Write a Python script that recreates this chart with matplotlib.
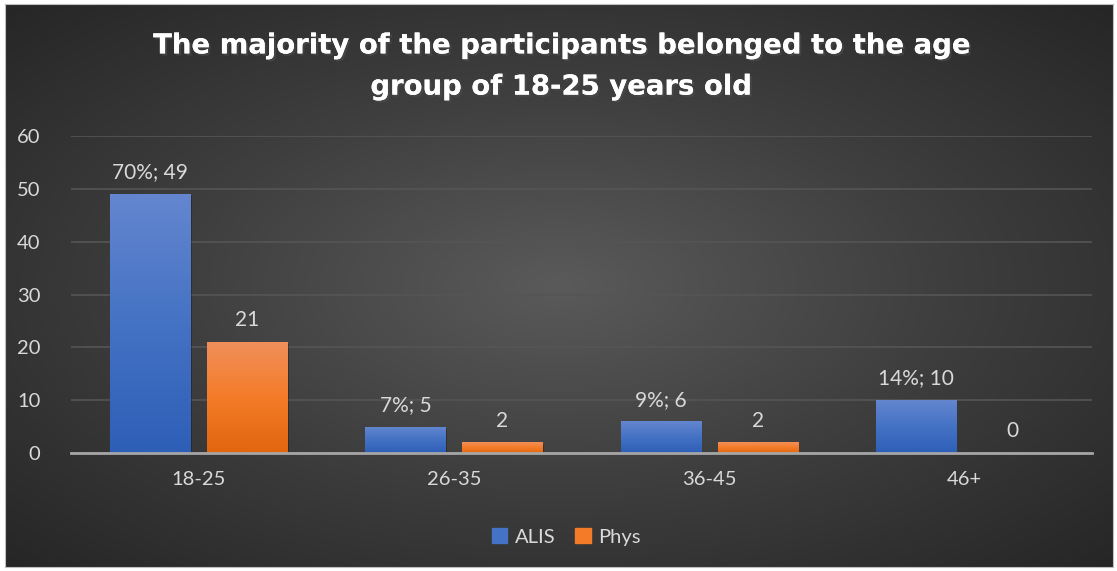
import numpy as np
import matplotlib.pyplot as plt
import matplotlib.patheffects as pe
from matplotlib.colors import LinearSegmentedColormap

plt.rcParams['font.family'] = ['Lato', 'DejaVu Sans']

categories = ['18-25', '26-35', '36-45', '46+']
alis = [49, 5, 6, 10]
phys = [21, 2, 2, 0]
alis_labels = ['70%; 49', '7%; 5', '9%; 6', '14%; 10']
phys_labels = ['21', '2', '2', '0']
title = 'The majority of the participants belonged to the age\ngroup of 18-25 years old'

txt = '#d9d9d9'

fig = plt.figure(figsize=(11.17, 5.71), dpi=100, facecolor='white')

# dark radial background
bg = fig.add_axes([5 / 1117, 4 / 571, 1108 / 1117, 563 / 571])
yy, xx = np.mgrid[0:1:300j, 0:1:600j]
r = np.sqrt(((xx - 0.5) / 0.75) ** 2 + ((yy - 0.5) / 0.75) ** 2)
r = np.clip(r / r.max(), 0, 1)
bgcmap = LinearSegmentedColormap.from_list('bg', ['#5a5a5a', '#3e3e3e', '#262626'])
bg.imshow(r, cmap=bgcmap, aspect='auto', extent=[0, 1, 0, 1], vmin=0, vmax=1)
bg.set_xticks([])
bg.set_yticks([])
for s in bg.spines.values():
    s.set_color('#bfbfbf')
    s.set_linewidth(0.8)

ax = fig.add_axes([71 / 1117, 1 - 453 / 571, 1021 / 1117, 317 / 571])
ax.patch.set_alpha(0)

x = np.arange(len(categories))
w = 0.314
off = 0.19

blue_cm = LinearSegmentedColormap.from_list('b', ['#2e5fb7', '#4472c4', '#6486cf'])
orng_cm = LinearSegmentedColormap.from_list('o', ['#e2650f', '#f47c28', '#f08f5a'])

grad = np.linspace(0, 1, 100).reshape(-1, 1)

def grad_bars(xs, vals, cmap):
    bars = ax.bar(xs, vals, w, color='none', zorder=3)
    for b in bars:
        if b.get_height() <= 0:
            continue
        # soft shadow
        ax.bar(b.get_x() + b.get_width() / 2 + 0.006, b.get_height(), w,
               bottom=-0.4, color='black', alpha=0.25, zorder=2)
        im = ax.imshow(grad, cmap=cmap, origin='lower', aspect='auto',
                       extent=[b.get_x(), b.get_x() + b.get_width(), 0, b.get_height()],
                       zorder=3)
        im.set_clip_path(b)
    return bars

b1 = grad_bars(x - off, alis, blue_cm)
b2 = grad_bars(x + off, phys, orng_cm)

for b, lab in zip(b1, alis_labels):
    ax.text(b.get_x() + b.get_width() / 2, b.get_height() + 2.2, lab,
            ha='center', va='bottom', color=txt, fontsize=15)
for b, lab in zip(b2, phys_labels):
    ax.text(b.get_x() + b.get_width() / 2, b.get_height() + 2.2, lab,
            ha='center', va='bottom', color=txt, fontsize=15)

ax.set_xlim(-0.5, len(categories) - 0.5)
ax.set_ylim(0, 60)
ax.set_yticks(range(0, 61, 10))
ax.set_xticks(x)
ax.set_xticklabels(categories)
ax.tick_params(axis='both', length=0, colors=txt, labelsize=14.5)
ax.tick_params(axis='x', pad=13)
ax.tick_params(axis='y', pad=22)
ax.grid(axis='y', color='#555555', linewidth=1.2, zorder=0)
for s in ['top', 'right', 'left']:
    ax.spines[s].set_visible(False)
ax.spines['bottom'].set_color('#a6a6a6')
ax.spines['bottom'].set_linewidth(2)
ax.spines['bottom'].set_zorder(4)

# legend
h1 = plt.Rectangle((0, 0), 1, 1, color='#4472c4')
h2 = plt.Rectangle((0, 0), 1, 1, color='#f47c28')
leg = fig.legend([h1, h2], ['ALIS', 'Phys'], loc='center', bbox_to_anchor=(0.507, 1 - 537 / 571),
                 ncol=2, frameon=False, fontsize=14.5, handlelength=0.75, handleheight=0.75,
                 handletextpad=0.4, columnspacing=1.0)
for t in leg.get_texts():
    t.set_color(txt)

fig.text(0.502, 1 - 66 / 571, title, ha='center', va='center', color='white',
         fontsize=19.8, fontweight='bold', family='DejaVu Sans', linespacing=1.6,
         path_effects=[pe.withSimplePatchShadow(offset=(1.5, -1.5), alpha=0.6), pe.Normal()])

fig.savefig('out.png', dpi=100, facecolor='white')
